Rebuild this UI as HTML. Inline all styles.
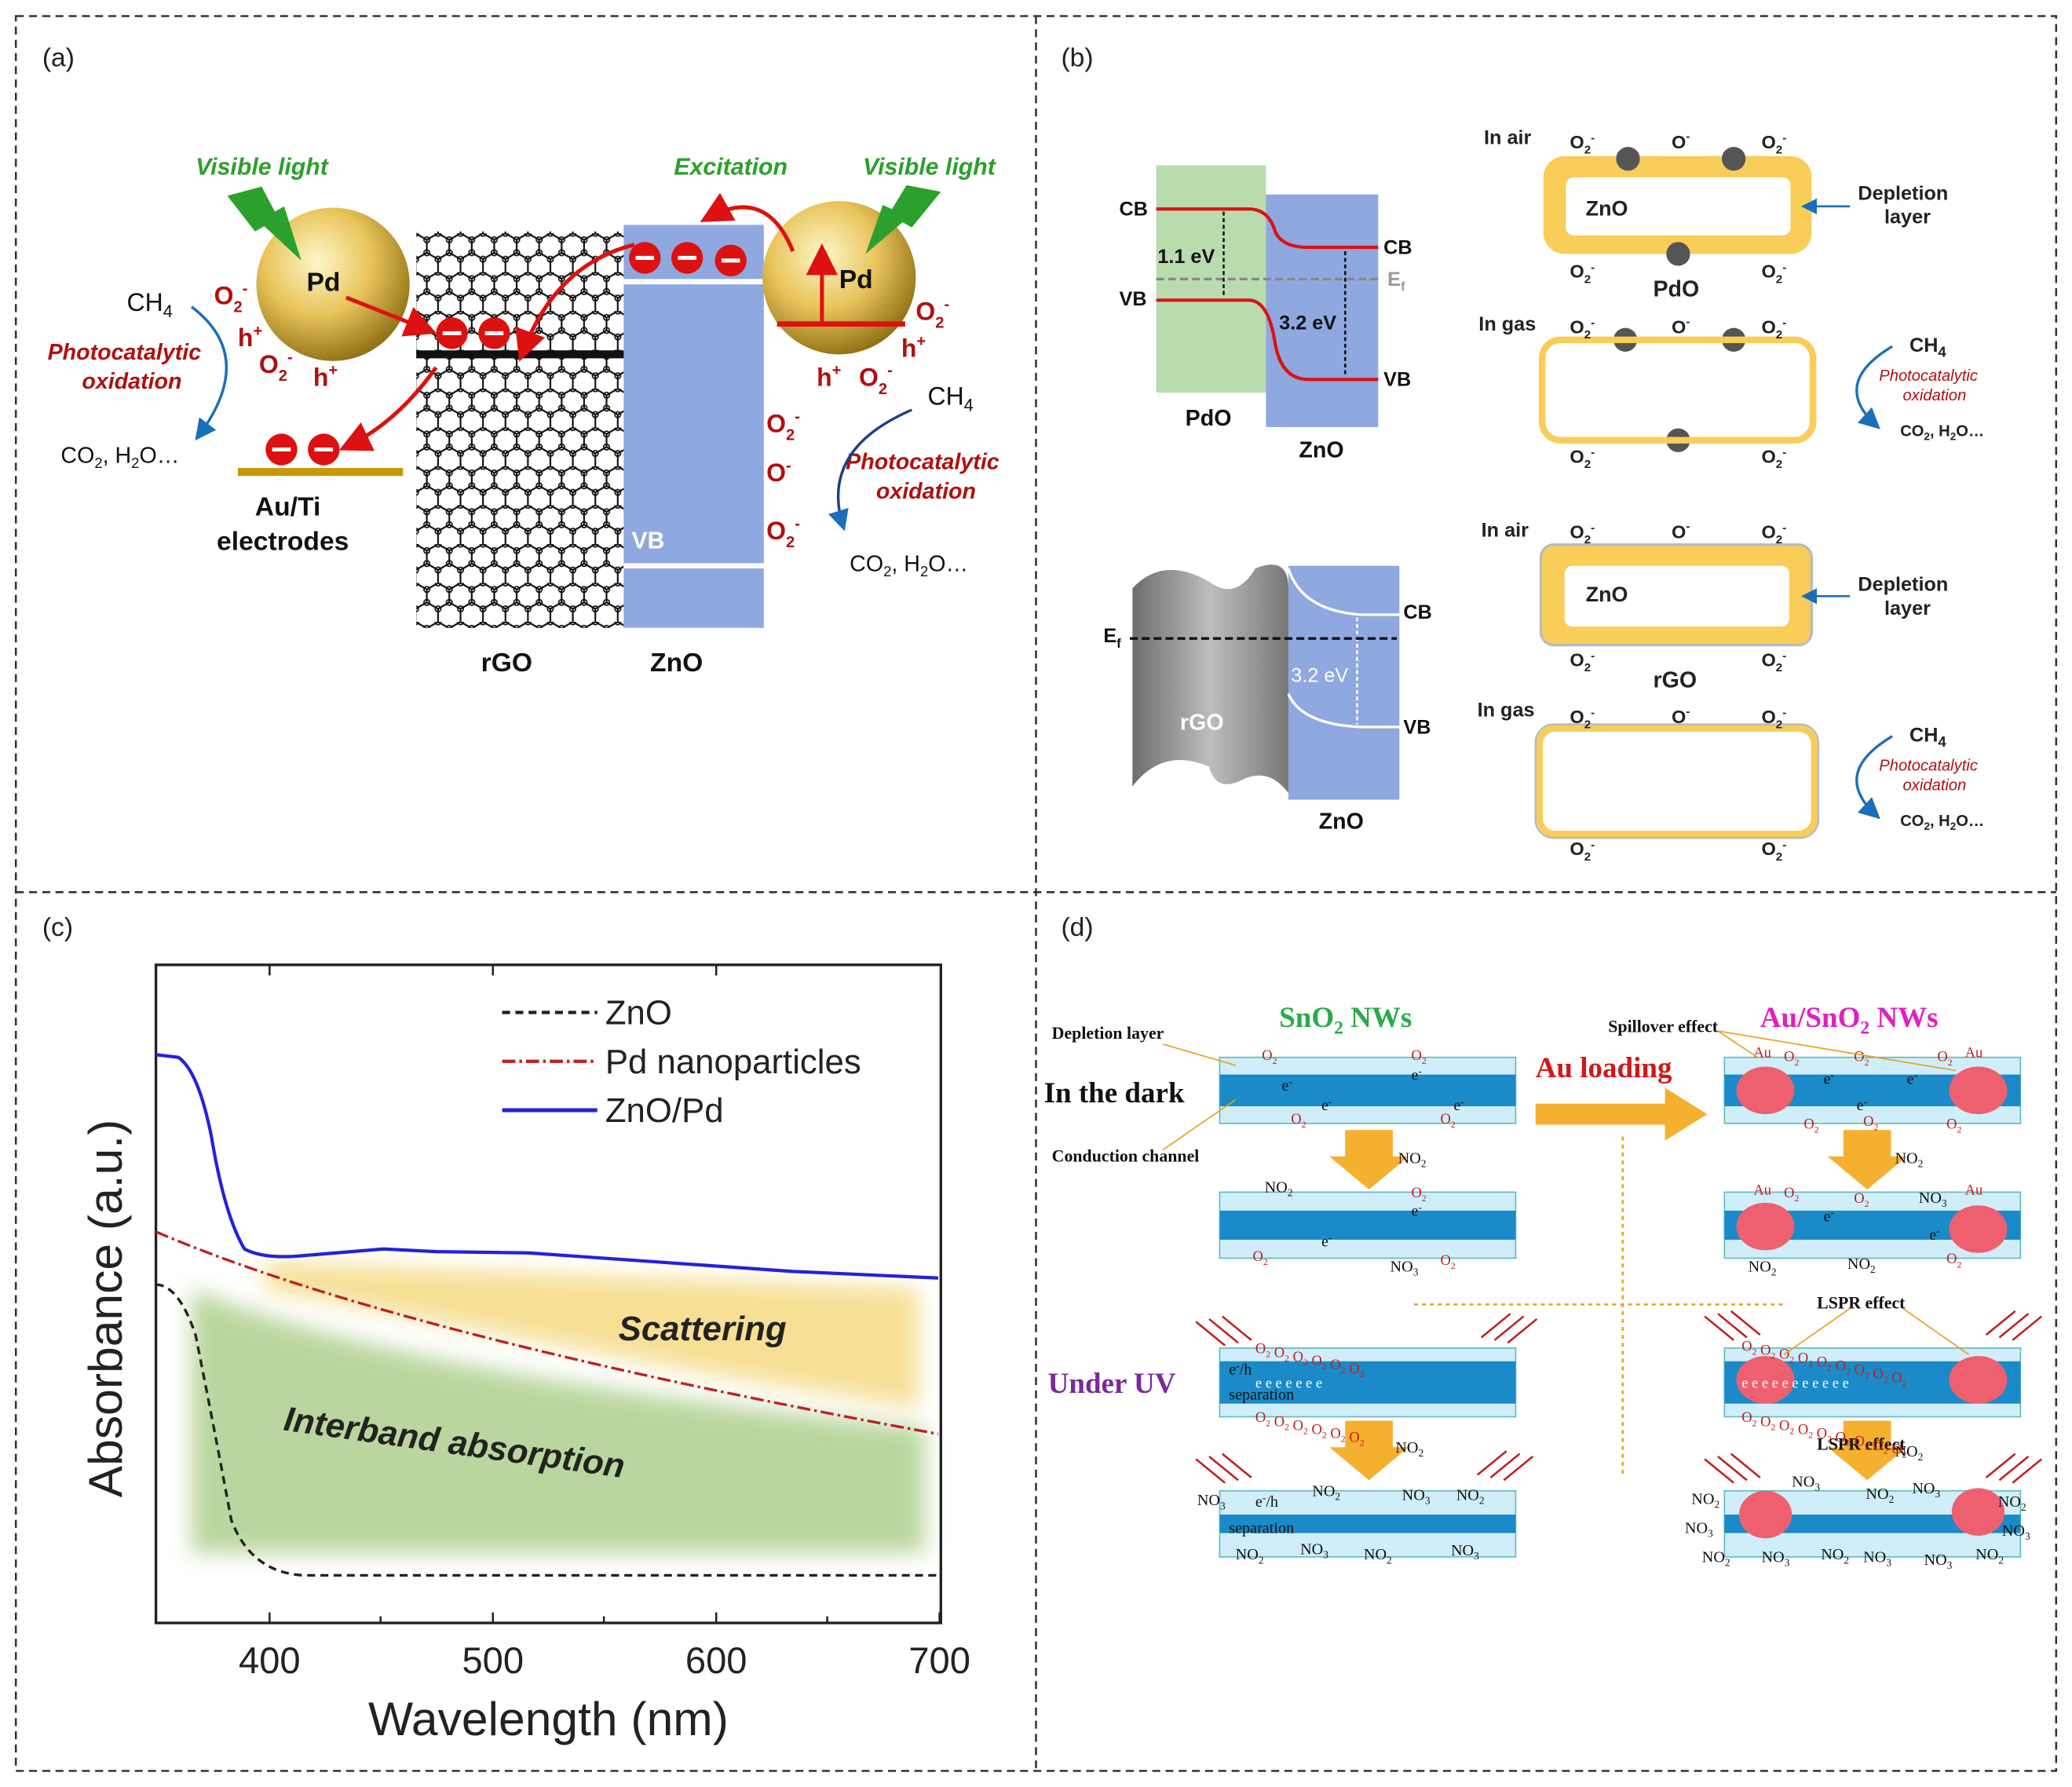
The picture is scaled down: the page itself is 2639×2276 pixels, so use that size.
<!DOCTYPE html>
<html><head><meta charset="utf-8"><style>
html,body{margin:0;padding:0;background:#fff}
svg{display:block}
text{font-family:"Liberation Sans",sans-serif}
.s text,text.s{font-family:"Liberation Serif",serif}
</style></head><body>
<svg width="2639" height="2276" viewBox="0 0 1568 1352" xmlns="http://www.w3.org/2000/svg">
<defs>
<radialGradient id="pd" cx="0.4" cy="0.35" r="0.7"><stop offset="0" stop-color="#fff6c8"/><stop offset="0.5" stop-color="#e8c45a"/><stop offset="1" stop-color="#8a6a10"/></radialGradient>
<pattern id="hex" width="17" height="29.4" patternUnits="userSpaceOnUse">
<path d="M0 4.9 L8.5 0 L17 4.9 M8.5 0 V0 M0 4.9 V14.7 L8.5 19.6 L17 14.7 V4.9 M8.5 19.6 V29.4" fill="none" stroke="#111" stroke-width="1.3"/>
<circle cx="0" cy="4.9" r="2.2" fill="none" stroke="#111"/><circle cx="17" cy="4.9" r="2.2" fill="none" stroke="#111"/>
<circle cx="0" cy="14.7" r="2.2" fill="none" stroke="#111"/><circle cx="17" cy="14.7" r="2.2" fill="none" stroke="#111"/>
<circle cx="8.5" cy="19.6" r="2.2" fill="none" stroke="#111"/><circle cx="8.5" cy="0" r="2.2" fill="none" stroke="#111"/>
</pattern>
<linearGradient id="rgo" x1="0" x2="1"><stop offset="0" stop-color="#6e6e6e"/><stop offset="0.5" stop-color="#bdbdbd"/><stop offset="1" stop-color="#777"/></linearGradient>
<filter id="bl"><feGaussianBlur stdDeviation="8"/></filter>
<marker id="ar" markerWidth="8" markerHeight="8" refX="6" refY="4" orient="auto"><path d="M0 0 L8 4 L0 8Z" fill="#d11"/></marker>
<marker id="ab" markerWidth="8" markerHeight="8" refX="6" refY="4" orient="auto"><path d="M0 0 L8 4 L0 8Z" fill="#1a6fb8"/></marker>
</defs>
<g fill="none" stroke="#333" stroke-width="1.5" stroke-dasharray="6,4">
<rect x="12" y="12" width="1544" height="1328"/>
<line x1="784" y1="12" x2="784" y2="1340"/><line x1="12" y1="675" x2="1556" y2="675"/>
</g>
<g font-size="20" fill="#222"><text x="32" y="50">(a)</text><text x="803" y="50">(b)</text><text x="32" y="708">(c)</text><text x="803" y="708">(d)</text></g>

<!-- Panel a -->
<rect x="315" y="175" width="157" height="300" fill="url(#hex)"/>
<rect x="472" y="170" width="106" height="305" fill="#8fa8e0"/>
<line x1="472" y1="213" x2="578" y2="213" stroke="#fff" stroke-width="4"/>
<line x1="472" y1="428" x2="578" y2="428" stroke="#fff" stroke-width="4"/>
<text x="478" y="415" fill="#fff" font-size="18" font-weight="bold">VB</text>
<line x1="315" y1="268" x2="472" y2="268" stroke="#111" stroke-width="6"/>
<rect x="180" y="354" width="125" height="6" fill="#c8980a"/>
<circle cx="252" cy="215" r="58" fill="url(#pd)"/><circle cx="635" cy="210" r="58" fill="url(#pd)"/>
<g font-size="20" font-weight="bold" fill="#111"><text x="232" y="220">Pd</text><text x="635" y="218">Pd</text></g>
<line x1="588" y1="245" x2="685" y2="245" stroke="#d11" stroke-width="4"/>
<line x1="622" y1="245" x2="622" y2="190" stroke="#d11" stroke-width="3" marker-end="url(#ar)"/>
<path d="M172 148 L198 141 L208 160 L215 156 L228 197 L200 171 L193 175 Z" fill="#2ca02c"/>
<path d="M712 145 L686 140 L675 158 L668 155 L655 192 L683 168 L690 172 Z" fill="#2ca02c"/>
<g font-size="18" font-style="italic" font-weight="bold" fill="#2ca02c"><text x="148" y="132">Visible light</text><text x="510" y="132">Excitation</text><text x="653" y="132">Visible light</text></g>
<g fill="#d11"><circle cx="488" cy="195" r="12"/><circle cx="520" cy="195" r="12"/><circle cx="553" cy="197" r="12"/><circle cx="342" cy="252" r="12"/><circle cx="374" cy="252" r="12"/><circle cx="213" cy="340" r="12"/><circle cx="245" cy="340" r="12"/></g>
<g stroke="#fff" stroke-width="3"><path d="M481 195h14M513 195h14M546 197h14M335 252h14M367 252h14M206 340h14M238 340h14"/></g>
<g fill="none" stroke="#d11" stroke-width="3">
<path d="M262 225 Q300 240 325 250" marker-end="url(#ar)"/>
<path d="M600 190 Q580 140 535 165" marker-end="url(#ar)"/>
<path d="M480 185 Q420 200 395 268" marker-end="url(#ar)"/>
<path d="M330 278 Q300 320 262 338" marker-end="url(#ar)"/>
</g>
<g font-size="19" font-weight="bold" fill="#b01010">
<text x="162" y="230">O<tspan font-size="12" dy="6">2</tspan><tspan font-size="12" dy="-14">-</tspan></text>
<text x="180" y="262">h<tspan font-size="12" dy="-8">+</tspan></text>
<text x="196" y="282">O<tspan font-size="12" dy="6">2</tspan><tspan font-size="12" dy="-14">-</tspan></text>
<text x="237" y="292">h<tspan font-size="12" dy="-8">+</tspan></text>
<text x="693" y="242">O<tspan font-size="12" dy="6">2</tspan><tspan font-size="12" dy="-14">-</tspan></text>
<text x="682" y="270">h<tspan font-size="12" dy="-8">+</tspan></text>
<text x="618" y="292">h<tspan font-size="12" dy="-8">+</tspan></text>
<text x="650" y="292">O<tspan font-size="12" dy="6">2</tspan><tspan font-size="12" dy="-14">-</tspan></text>
<text x="580" y="327">O<tspan font-size="12" dy="6">2</tspan><tspan font-size="12" dy="-14">-</tspan></text>
<text x="580" y="364">O<tspan font-size="12" dy="-8">-</tspan></text>
<text x="580" y="408">O<tspan font-size="12" dy="6">2</tspan><tspan font-size="12" dy="-14">-</tspan></text>
</g>
<g font-size="17" font-style="italic" font-weight="bold" fill="#b01010"><text x="36" y="272">Photocatalytic</text><text x="62" y="294">oxidation</text><text x="640" y="355">Photocatalytic</text><text x="663" y="377">oxidation</text></g>
<g font-size="19" fill="#111"><text x="96" y="235">CH<tspan font-size="13" dy="5">4</tspan></text><text x="702" y="306">CH<tspan font-size="13" dy="5">4</tspan></text>
<text x="46" y="350" font-size="17">CO<tspan font-size="11" dy="4">2</tspan><tspan dy="-4">, H</tspan><tspan font-size="11" dy="4">2</tspan><tspan dy="-4">O…</tspan></text>
<text x="643" y="432" font-size="17">CO<tspan font-size="11" dy="4">2</tspan><tspan dy="-4">, H</tspan><tspan font-size="11" dy="4">2</tspan><tspan dy="-4">O…</tspan></text></g>
<path d="M145 232 Q195 270 150 330" fill="none" stroke="#1a6fb8" stroke-width="2" marker-end="url(#ab)"/>
<path d="M690 310 Q620 340 638 398" fill="none" stroke="#1a3f88" stroke-width="2" marker-end="url(#ab)"/>
<g font-size="20" font-weight="bold" fill="#111"><text x="193" y="390">Au/Ti</text><text x="164" y="416">electrodes</text><text x="364" y="508">rGO</text><text x="492" y="508">ZnO</text></g>

<!-- Panel b -->
<rect x="875" y="125" width="83" height="172" fill="#b9dcae"/>
<rect x="958" y="147" width="85" height="176" fill="#8fa8e0"/>
<g fill="none" stroke="#d11" stroke-width="2.5"><path d="M875 158 H945 Q960 158 965 175 Q970 187 990 187 H1043"/><path d="M875 227 H945 Q960 227 965 260 Q970 287 990 287 H1043"/></g>
<line x1="875" y1="211" x2="1043" y2="211" stroke="#888" stroke-width="2" stroke-dasharray="6,3"/>
<line x1="926" y1="160" x2="926" y2="225" stroke="#111" stroke-width="1.5" stroke-dasharray="3,2"/>
<line x1="1018" y1="190" x2="1018" y2="285" stroke="#111" stroke-width="1.5" stroke-dasharray="3,2"/>
<g font-size="15" font-weight="bold" fill="#111"><text x="847" y="163">CB</text><text x="847" y="231">VB</text><text x="1047" y="192">CB</text><text x="1047" y="292">VB</text><text x="876" y="199">1.1 eV</text><text x="968" y="249">3.2 eV</text><text x="1050" y="216" fill="#999">E<tspan font-size="10" dy="4">f</tspan></text>
<text x="897" y="322" font-size="17">PdO</text><text x="983" y="346" font-size="17">ZnO</text></g>
<path d="M857 445 Q880 420 915 440 Q935 455 950 430 Q975 420 975 445 V600 Q960 580 940 590 Q920 600 915 580 Q880 565 857 595 Z" fill="url(#rgo)"/>
<rect x="975" y="428" width="84" height="177" fill="#8fa8e0"/>
<g fill="none" stroke="#fff" stroke-width="2"><path d="M975 430 Q985 462 1030 465 H1059"/><path d="M975 525 Q985 548 1030 550 H1059"/></g>
<line x1="1027" y1="467" x2="1027" y2="548" stroke="#fff" stroke-width="1.5" stroke-dasharray="3,2"/>
<line x1="855" y1="483" x2="1057" y2="483" stroke="#111" stroke-width="2" stroke-dasharray="6,3"/>
<g font-size="15" font-weight="bold" fill="#111"><text x="835" y="486">E<tspan font-size="10" dy="4">f</tspan></text><text x="1062" y="468">CB</text><text x="1062" y="555">VB</text><text x="977" y="516" fill="#fff" font-weight="normal">3.2 eV</text><text x="893" y="552" fill="#fff" font-size="17">rGO</text><text x="998" y="627" font-size="17">ZnO</text></g>
<g>
<rect x="1168" y="118" width="203" height="74" rx="16" fill="#f8cd58"/>
<rect x="1185" y="134" width="170" height="44" rx="6" fill="#fff"/>
<path d="M1210 118 Q1232 145 1255 118Z M1290 118 Q1312 145 1335 118Z" fill="#f8cd58"/>
<path d="M1250 192 Q1270 175 1290 192Z" fill="#f8cd58"/>
<g fill="#555"><circle cx="1232" cy="120" r="9"/><circle cx="1312" cy="120" r="9"/><circle cx="1270" cy="192" r="9"/><circle cx="1230" cy="257" r="9"/><circle cx="1312" cy="257" r="9"/><circle cx="1270" cy="333" r="9"/></g>
<rect x="1167" y="257" width="205" height="76" rx="14" fill="none" stroke="#f8cd58" stroke-width="5"/>
<rect x="1166" y="412" width="205" height="76" rx="10" fill="#f8cd58" stroke="#bbb" stroke-width="2"/>
<rect x="1184" y="428" width="170" height="46" rx="6" fill="#fff"/>
<rect x="1165" y="551" width="208" height="80" rx="12" fill="none" stroke="#f8cd58" stroke-width="5"/>
<rect x="1162" y="548" width="214" height="86" rx="14" fill="none" stroke="#bbb" stroke-width="1.5"/>
<g font-size="15" font-weight="bold" fill="#222">
<text x="1123" y="109">In air</text><text x="1119" y="250">In gas</text><text x="1121" y="406">In air</text><text x="1118" y="542">In gas</text>
<text x="1200" y="163" font-size="16">ZnO</text><text x="1200" y="455" font-size="16">ZnO</text><text x="1251" y="224" font-size="17">PdO</text><text x="1251" y="520" font-size="17">rGO</text>
<text x="1406" y="151">Depletion</text><text x="1426" y="169">layer</text><text x="1406" y="447">Depletion</text><text x="1426" y="465">layer</text>
<text x="1445" y="266">CH<tspan font-size="11" dy="4">4</tspan></text><text x="1445" y="561">CH<tspan font-size="11" dy="4">4</tspan></text>
<text x="1438" y="330" font-size="12">CO<tspan font-size="8" dy="3">2</tspan><tspan dy="-3">, H</tspan><tspan font-size="8" dy="3">2</tspan><tspan dy="-3">O…</tspan></text>
<text x="1438" y="625" font-size="12">CO<tspan font-size="8" dy="3">2</tspan><tspan dy="-3">, H</tspan><tspan font-size="8" dy="3">2</tspan><tspan dy="-3">O…</tspan></text>
</g>
<g font-size="14" font-weight="bold" fill="#222">
<text x="1188" y="112">O<tspan font-size="9" dy="4">2</tspan><tspan font-size="9" dy="-9">-</tspan></text><text x="1265" y="112">O<tspan font-size="9" dy="-6">-</tspan></text><text x="1333" y="112">O<tspan font-size="9" dy="4">2</tspan><tspan font-size="9" dy="-9">-</tspan></text>
<text x="1188" y="210">O<tspan font-size="9" dy="4">2</tspan><tspan font-size="9" dy="-9">-</tspan></text><text x="1333" y="210">O<tspan font-size="9" dy="4">2</tspan><tspan font-size="9" dy="-9">-</tspan></text>
<text x="1188" y="252">O<tspan font-size="9" dy="4">2</tspan><tspan font-size="9" dy="-9">-</tspan></text><text x="1265" y="252">O<tspan font-size="9" dy="-6">-</tspan></text><text x="1333" y="252">O<tspan font-size="9" dy="4">2</tspan><tspan font-size="9" dy="-9">-</tspan></text>
<text x="1188" y="350">O<tspan font-size="9" dy="4">2</tspan><tspan font-size="9" dy="-9">-</tspan></text><text x="1333" y="350">O<tspan font-size="9" dy="4">2</tspan><tspan font-size="9" dy="-9">-</tspan></text>
<text x="1188" y="407">O<tspan font-size="9" dy="4">2</tspan><tspan font-size="9" dy="-9">-</tspan></text><text x="1265" y="407">O<tspan font-size="9" dy="-6">-</tspan></text><text x="1333" y="407">O<tspan font-size="9" dy="4">2</tspan><tspan font-size="9" dy="-9">-</tspan></text>
<text x="1188" y="504">O<tspan font-size="9" dy="4">2</tspan><tspan font-size="9" dy="-9">-</tspan></text><text x="1333" y="504">O<tspan font-size="9" dy="4">2</tspan><tspan font-size="9" dy="-9">-</tspan></text>
<text x="1188" y="547">O<tspan font-size="9" dy="4">2</tspan><tspan font-size="9" dy="-9">-</tspan></text><text x="1265" y="547">O<tspan font-size="9" dy="-6">-</tspan></text><text x="1333" y="547">O<tspan font-size="9" dy="4">2</tspan><tspan font-size="9" dy="-9">-</tspan></text>
<text x="1188" y="647">O<tspan font-size="9" dy="4">2</tspan><tspan font-size="9" dy="-9">-</tspan></text><text x="1333" y="647">O<tspan font-size="9" dy="4">2</tspan><tspan font-size="9" dy="-9">-</tspan></text>
</g>
<g font-size="12" font-style="italic" fill="#b01010"><text x="1422" y="288">Photocatalytic</text><text x="1440" y="303">oxidation</text><text x="1422" y="583">Photocatalytic</text><text x="1440" y="598">oxidation</text></g>
<path d="M1432 262 Q1385 290 1420 322" fill="none" stroke="#1a6fb8" stroke-width="2" marker-end="url(#ab)"/>
<path d="M1432 557 Q1385 585 1420 617" fill="none" stroke="#1a6fb8" stroke-width="2" marker-end="url(#ab)"/>
<line x1="1400" y1="156" x2="1366" y2="156" stroke="#1a6fb8" stroke-width="1.5" marker-end="url(#ab)"/>
<line x1="1400" y1="451" x2="1366" y2="451" stroke="#1a6fb8" stroke-width="1.5" marker-end="url(#ab)"/>
</g>

<!-- Panel c -->
<g filter="url(#bl)">
<path d="M200 955 L695 975 V1065 L540 1040 L200 975Z" fill="#f4d77a" opacity="0.8"/>
<path d="M145 975 Q300 1040 700 1080 V1175 H145Z" fill="#a9cc86" opacity="0.8"/>
</g>
<rect x="118" y="730" width="594" height="498" fill="none" stroke="#222" stroke-width="2"/>
<g stroke="#222" stroke-width="1.5"><path d="M204 1228v-8M288 1228v-5M373 1228v-8M457 1228v-5M542 1228v-8M626 1228v-5M711 1228v-8M204 730v8M373 730v8M542 730v8"/></g>
<path d="M118 972 Q135 972 148 1010 Q162 1080 175 1150 Q190 1190 230 1192 H710" fill="none" stroke="#222" stroke-width="2" stroke-dasharray="6,4"/>
<path d="M118 932 Q300 1010 710 1085" fill="none" stroke="#c02020" stroke-width="2" stroke-dasharray="10,3,2,3"/>
<path d="M118 798 L135 800 Q150 810 160 860 Q170 920 185 945 Q200 953 230 950 L290 945 L330 947 L400 948 L500 955 L600 962 L710 967" fill="none" stroke="#2222dd" stroke-width="2.5"/>
<g font-size="26" fill="#222"><text x="458" y="775">ZnO</text><text x="458" y="812">Pd nanoparticles</text><text x="458" y="849">ZnO/Pd</text></g>
<line x1="380" y1="766" x2="452" y2="766" stroke="#222" stroke-width="2.5" stroke-dasharray="6,4"/>
<line x1="380" y1="803" x2="452" y2="803" stroke="#c02020" stroke-width="2.5" stroke-dasharray="10,3,2,3"/>
<line x1="380" y1="840" x2="452" y2="840" stroke="#2222dd" stroke-width="3"/>
<text x="468" y="1014" font-size="26" font-weight="bold" font-style="italic" fill="#222">Scattering</text>
<text x="214" y="1082" font-size="26" font-weight="bold" font-style="italic" fill="#222" transform="rotate(8 214 1082)">Interband absorption</text>
<g font-size="28" fill="#222" text-anchor="middle"><text x="204" y="1266">400</text><text x="373" y="1266">500</text><text x="542" y="1266">600</text><text x="711" y="1266">700</text></g>
<text x="415" y="1313" font-size="36" text-anchor="middle" fill="#222">Wavelength (nm)</text>
<text x="92" y="990" font-size="36" text-anchor="middle" fill="#222" transform="rotate(-90 92 990)">Absorbance (a.u.)</text>

<!-- Panel d -->
<g class="s">
<rect x="923" y="800" width="224" height="50" fill="#cfeefa" stroke="#6bb" stroke-width="1"/><rect x="923" y="813" width="224" height="24" fill="#1a8ac8"/>
<rect x="923" y="902" width="224" height="50" fill="#cfeefa" stroke="#6bb"/><rect x="923" y="916" width="224" height="22" fill="#1a8ac8"/>
<rect x="923" y="1020" width="224" height="52" fill="#cfeefa" stroke="#6bb"/><rect x="923" y="1030" width="224" height="32" fill="#1a8ac8"/>
<rect x="923" y="1128" width="224" height="50" fill="#cfeefa" stroke="#6bb"/><rect x="923" y="1146" width="224" height="14" fill="#1a8ac8"/>
<rect x="1305" y="800" width="224" height="50" fill="#cfeefa" stroke="#6bb"/><rect x="1305" y="813" width="224" height="24" fill="#1a8ac8"/>
<rect x="1305" y="902" width="224" height="50" fill="#cfeefa" stroke="#6bb"/><rect x="1305" y="916" width="224" height="22" fill="#1a8ac8"/>
<rect x="1305" y="1020" width="224" height="52" fill="#cfeefa" stroke="#6bb"/><rect x="1305" y="1030" width="224" height="32" fill="#1a8ac8"/>
<rect x="1305" y="1128" width="224" height="50" fill="#cfeefa" stroke="#6bb"/><rect x="1305" y="1146" width="224" height="14" fill="#1a8ac8"/>
<g fill="#ee6070"><ellipse cx="1336" cy="825" rx="22" ry="18"/><ellipse cx="1497" cy="825" rx="22" ry="18"/><ellipse cx="1336" cy="928" rx="22" ry="18"/><ellipse cx="1497" cy="930" rx="22" ry="18"/><ellipse cx="1336" cy="1044" rx="22" ry="18"/><ellipse cx="1497" cy="1044" rx="22" ry="18"/><ellipse cx="1336" cy="1146" rx="20" ry="18"/><ellipse cx="1497" cy="1144" rx="20" ry="18"/></g>
<g fill="#f5b030"><path d="M1018 855 h36 v20 h12 l-30 25 l-30 -25 h12z"/><path d="M1018 1075 h36 v20 h12 l-30 25 l-30 -25 h12z"/><path d="M1395 855 h36 v20 h12 l-30 25 l-30 -25 h12z"/><path d="M1395 1075 h36 v20 h12 l-30 25 l-30 -25 h12z"/><path d="M1162 835 h98 v-12 l32 20 l-32 20 v-12 h-98z"/></g>
<line x1="1228" y1="860" x2="1228" y2="1115" stroke="#e8a020" stroke-width="1.5" stroke-dasharray="3,3"/>
<line x1="1070" y1="987" x2="1350" y2="987" stroke="#e8a020" stroke-width="1.5" stroke-dasharray="3,3"/>
<g font-weight="bold">
<text x="968" y="777" font-size="22" fill="#2aaa4a">SnO<tspan font-size="14" dy="5">2</tspan><tspan dy="-5"> NWs</tspan></text>
<text x="1332" y="777" font-size="22" fill="#e020c0">Au/SnO<tspan font-size="14" dy="5">2</tspan><tspan dy="-5"> NWs</tspan></text>
<text x="1162" y="815" font-size="22" fill="#d01818">Au loading</text>
<text x="790" y="834" font-size="22" fill="#111">In the dark</text>
<text x="793" y="1054" font-size="22" fill="#7a2a9a">Under UV</text>
<text x="796" y="786" font-size="13" fill="#111">Depletion layer</text>
<text x="796" y="879" font-size="13" fill="#111">Conduction channel</text>
<text x="1217" y="781" font-size="13" fill="#111">Spillover effect</text>
<text x="1375" y="990" font-size="13" fill="#111">LSPR effect</text>
<text x="1375" y="1097" font-size="13" fill="#111">LSPR effect</text>
</g>
<g font-size="12" fill="#111">
<text x="1058" y="880">NO<tspan font-size="8" dy="3">2</tspan></text><text x="1434" y="880">NO<tspan font-size="8" dy="3">2</tspan></text>
<text x="1056" y="1099">NO<tspan font-size="8" dy="3">2</tspan></text><text x="1434" y="1102">NO<tspan font-size="8" dy="3">2</tspan></text>
<text x="957" y="902">NO<tspan font-size="8" dy="3">2</tspan></text><text x="1052" y="962">NO<tspan font-size="8" dy="3">3</tspan></text>
<text x="1323" y="962">NO<tspan font-size="8" dy="3">2</tspan></text><text x="1398" y="960">NO<tspan font-size="8" dy="3">2</tspan></text><text x="1452" y="910">NO<tspan font-size="8" dy="3">3</tspan></text>
<text x="930" y="1040">e<tspan dy="-4" font-size="8">-</tspan><tspan dy="4">/h</tspan></text><text x="930" y="1059">separation</text>
<text x="950" y="1140">e<tspan dy="-4" font-size="8">-</tspan><tspan dy="4">/h</tspan></text><text x="930" y="1160">separation</text>
<text x="906" y="1139">NO<tspan font-size="8" dy="3">3</tspan></text><text x="993" y="1132">NO<tspan font-size="8" dy="3">2</tspan></text><text x="1061" y="1135">NO<tspan font-size="8" dy="3">3</tspan></text><text x="1102" y="1135">NO<tspan font-size="8" dy="3">2</tspan></text>
<text x="935" y="1180">NO<tspan font-size="8" dy="3">2</tspan></text><text x="984" y="1176">NO<tspan font-size="8" dy="3">3</tspan></text><text x="1032" y="1180">NO<tspan font-size="8" dy="3">2</tspan></text><text x="1098" y="1177">NO<tspan font-size="8" dy="3">3</tspan></text>
<text x="1280" y="1138">NO<tspan font-size="8" dy="3">2</tspan></text><text x="1275" y="1160">NO<tspan font-size="8" dy="3">3</tspan></text><text x="1288" y="1182">NO<tspan font-size="8" dy="3">2</tspan></text><text x="1333" y="1182">NO<tspan font-size="8" dy="3">3</tspan></text><text x="1378" y="1180">NO<tspan font-size="8" dy="3">2</tspan></text><text x="1410" y="1182">NO<tspan font-size="8" dy="3">3</tspan></text><text x="1456" y="1184">NO<tspan font-size="8" dy="3">3</tspan></text><text x="1495" y="1180">NO<tspan font-size="8" dy="3">2</tspan></text>
<text x="1356" y="1125">NO<tspan font-size="8" dy="3">3</tspan></text><text x="1412" y="1134">NO<tspan font-size="8" dy="3">2</tspan></text><text x="1447" y="1130">NO<tspan font-size="8" dy="3">3</tspan></text><text x="1512" y="1140">NO<tspan font-size="8" dy="3">2</tspan></text><text x="1515" y="1162">NO<tspan font-size="8" dy="3">3</tspan></text>
<text x="970" y="825">e<tspan dy="-4" font-size="8">-</tspan></text><text x="1000" y="840">e<tspan dy="-4" font-size="8">-</tspan></text><text x="1068" y="817">e<tspan dy="-4" font-size="8">-</tspan></text><text x="1100" y="840">e<tspan dy="-4" font-size="8">-</tspan></text>
<text x="1068" y="920">e<tspan dy="-4" font-size="8">-</tspan></text><text x="1000" y="943">e<tspan dy="-4" font-size="8">-</tspan></text>
<text x="1380" y="820">e<tspan dy="-4" font-size="8">-</tspan></text><text x="1443" y="820">e<tspan dy="-4" font-size="8">-</tspan></text><text x="1405" y="840">e<tspan dy="-4" font-size="8">-</tspan></text>
<text x="1380" y="924">e<tspan dy="-4" font-size="8">-</tspan></text><text x="1460" y="938">e<tspan dy="-4" font-size="8">-</tspan></text>
</g>
<g font-size="11" fill="#c02020">
<text x="955" y="802">O<tspan font-size="7" dy="3">2</tspan></text><text x="1068" y="802">O<tspan font-size="7" dy="3">2</tspan></text><text x="977" y="850">O<tspan font-size="7" dy="3">2</tspan></text><text x="1090" y="850">O<tspan font-size="7" dy="3">2</tspan></text>
<text x="1068" y="906">O<tspan font-size="7" dy="3">2</tspan></text><text x="948" y="954">O<tspan font-size="7" dy="3">2</tspan></text><text x="1090" y="957">O<tspan font-size="7" dy="3">2</tspan></text>
<text x="1327" y="800">Au</text><text x="1350" y="803">O<tspan font-size="7" dy="3">2</tspan></text><text x="1403" y="803">O<tspan font-size="7" dy="3">2</tspan></text><text x="1466" y="803">O<tspan font-size="7" dy="3">2</tspan></text><text x="1487" y="800">Au</text>
<text x="1365" y="854">O<tspan font-size="7" dy="3">2</tspan></text><text x="1410" y="852">O<tspan font-size="7" dy="3">2</tspan></text><text x="1473" y="854">O<tspan font-size="7" dy="3">2</tspan></text>
<text x="1327" y="904">Au</text><text x="1350" y="906">O<tspan font-size="7" dy="3">2</tspan></text><text x="1403" y="910">O<tspan font-size="7" dy="3">2</tspan></text><text x="1487" y="904">Au</text><text x="1473" y="956">O<tspan font-size="7" dy="3">2</tspan></text>
<text x="950" y="1024">O<tspan font-size="7" dy="3">2</tspan>  O<tspan font-size="7" dy="3">2</tspan>  O<tspan font-size="7" dy="3">2</tspan>  O<tspan font-size="7" dy="3">2</tspan>  O<tspan font-size="7" dy="3">2</tspan>  O<tspan font-size="7" dy="3">2</tspan></text>
<text x="950" y="1076">O<tspan font-size="7" dy="3">2</tspan>  O<tspan font-size="7" dy="3">2</tspan>  O<tspan font-size="7" dy="3">2</tspan>  O<tspan font-size="7" dy="3">2</tspan>  O<tspan font-size="7" dy="3">2</tspan>  O<tspan font-size="7" dy="3">2</tspan></text>
<text x="1318" y="1022">O<tspan font-size="7" dy="3">2</tspan> O<tspan font-size="7" dy="3">2</tspan> O<tspan font-size="7" dy="3">2</tspan> O<tspan font-size="7" dy="3">2</tspan> O<tspan font-size="7" dy="3">2</tspan> O<tspan font-size="7" dy="3">2</tspan> O<tspan font-size="7" dy="3">2</tspan> O<tspan font-size="7" dy="3">2</tspan> O<tspan font-size="7" dy="3">2</tspan></text>
<text x="1318" y="1076">O<tspan font-size="7" dy="3">2</tspan> O<tspan font-size="7" dy="3">2</tspan> O<tspan font-size="7" dy="3">2</tspan> O<tspan font-size="7" dy="3">2</tspan> O<tspan font-size="7" dy="3">2</tspan> O<tspan font-size="7" dy="3">2</tspan> O<tspan font-size="7" dy="3">2</tspan> O<tspan font-size="7" dy="3">2</tspan> O<tspan font-size="7" dy="3">2</tspan></text>
</g>
<g font-size="11" fill="#fff"><text x="950" y="1050">e  e  e  e  e  e  e</text><text x="1318" y="1050">e e e e e e e e e e e</text></g>
<g stroke="#c02020" stroke-width="1.5">
<path d="M905 1000l22 18M915 998l22 18M925 996l22 18M1163 998l-22 18M1153 996l-22 18M1143 994l-22 18"/>
<path d="M905 1104l22 18M915 1102l22 18M925 1100l22 18M1160 1102l-22 18M1150 1100l-22 18M1140 1098l-22 18"/>
<path d="M1290 996l22 18M1300 994l22 18M1310 992l22 18M1545 996l-22 18M1535 994l-22 18M1525 992l-22 18"/>
<path d="M1290 1104l22 18M1300 1102l22 18M1310 1100l22 18M1545 1104l-22 18M1535 1102l-22 18M1525 1100l-22 18"/>
</g>
<g stroke="#e8a020" stroke-width="1" fill="none">
<path d="M880 790 L935 806"/><path d="M880 870 L935 832"/><path d="M1300 780 L1330 800"/><path d="M1300 780 L1480 810"/>
<path d="M1400 990 L1350 1025"/><path d="M1440 990 L1490 1025"/>
</g>
</g>
</svg>
</body></html>
